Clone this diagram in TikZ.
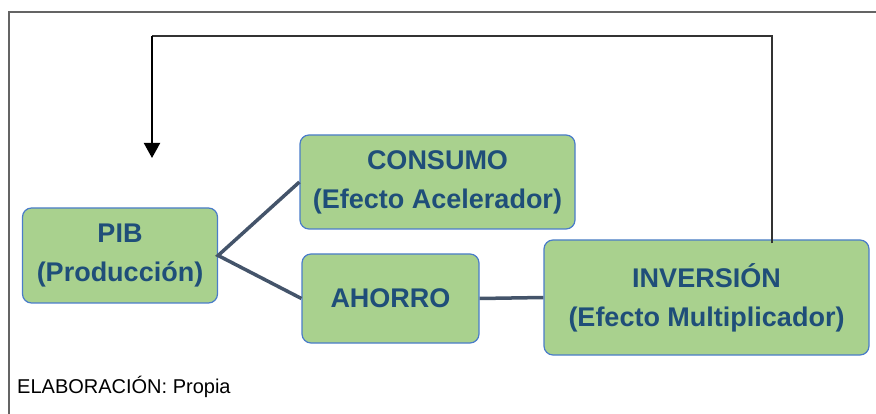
\documentclass[tikz,border=0pt]{standalone}
\usepackage{fontspec}
\setmainfont{Liberation Sans}
\usetikzlibrary{arrows.meta}
\definecolor{boxfill}{HTML}{A9D18E}
\definecolor{boxline}{HTML}{4A7CC9}
\definecolor{boxtext}{HTML}{1F4E79}
\definecolor{linkcol}{HTML}{44546A}
\definecolor{framecol}{HTML}{646464}
\tikzset{
  greenbox/.style={draw=boxline, line width=1.2pt, fill=boxfill, rounded corners=9pt,
    text=boxtext, font=\fontsize{27}{39}\selectfont\bfseries, align=center,
    inner sep=0pt},
  link/.style={draw=linkcol, line width=3.5pt},
  feedback/.style={draw=black!80, line width=1.3pt},
}
\begin{document}
\begin{tikzpicture}[x=1pt,y=-1pt]
\useasboundingbox (0,0) rectangle (876,414);
% frame
\draw[framecol, line width=1.6pt] (9,414) -- (9,12) -- (876,12);
% boxes
\node[greenbox, minimum width=195pt, minimum height=95pt] (pib) at (120,255.5) {PIB\\(Producción)};
\node[greenbox, minimum width=275pt, minimum height=94pt] (con) at (437.5,182) {CONSUMO\\(Efecto Acelerador)};
\node[greenbox, minimum width=177pt, minimum height=89pt] (aho) at (390.5,298.5) {AHORRO};
\node[greenbox, minimum width=325pt, minimum height=115pt] (inv) at (706.5,297.5) {INVERSIÓN\\(Efecto Multiplicador)};
% links
\draw[link] (con.west) -- (pib.east) -- (aho.west);
\draw[link] (aho.east) -- (inv.west);
% feedback
\coordinate (fbR) at (772,36);
\coordinate (fbL) at (152,36);
\coordinate (fbE) at (152,158);
\draw[feedback] ([yshift=-4pt]inv.north -| fbR) -- (fbR) -- (fbL);
\draw[black, line width=2pt, -{Triangle[width=16pt,length=15pt]}] (fbL) -- (fbE);
% note
\node[anchor=base west, font=\fontsize{20}{24}\selectfont, inner sep=0pt] (note) at (17,393) {ELABORACIÓN: Propia};
\end{tikzpicture}
\end{document}
